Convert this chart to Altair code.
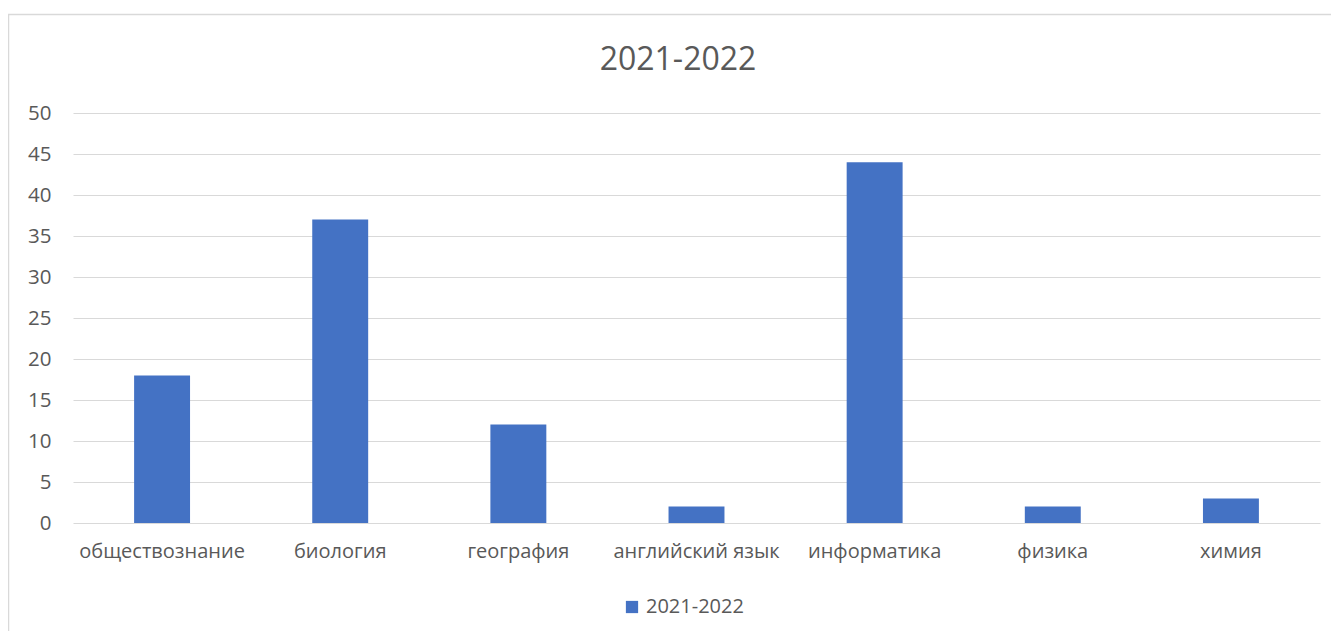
import altair as alt
import pandas as pd

categories = ["обществознание", "биология", "география", "английский язык",
              "информатика", "физика", "химия"]
values = [18, 37, 12, 2, 44, 2, 3]
series = ["2021-2022"] * len(categories)
y_ticks = [0, 5, 10, 15, 20, 25, 30, 35, 40, 45, 50]
chart_title = "2021-2022"

df = pd.DataFrame({"category": categories, "value": values, "series": series})
title_df = pd.DataFrame({"title": [chart_title]})

FONT = "Open Sans"
GRAY = "#595959"

bars = alt.Chart(df).mark_bar(color="#4472C4").encode(
    x=alt.X("category:N", sort=categories, title=None,
            scale=alt.Scale(paddingInner=0.686, paddingOuter=0.343),
            axis=alt.Axis(labelAngle=0, ticks=False, domain=False, grid=False,
                          labelFontSize=20, labelColor=GRAY, labelFont=FONT,
                          labelPadding=18)),
    y=alt.Y("value:Q", title=None,
            scale=alt.Scale(domain=[0, 50], nice=False),
            axis=alt.Axis(values=y_ticks, ticks=False, domain=False,
                          gridColor="#D9D9D9", gridWidth=1,
                          labelFontSize=20.5, labelColor=GRAY, labelFont=FONT,
                          labelPadding=22)),
    color=alt.Color("series:N", title=None,
                    scale=alt.Scale(range=["#4472C4"]),
                    legend=alt.Legend(orient="none", legendX=549, legendY=484,
                                      symbolType="square", symbolSize=150,
                                      symbolStrokeWidth=0,
                                      labelFontSize=20, labelColor=GRAY,
                                      labelFont=FONT, labelOffset=4)),
)

border = alt.Chart(title_df).mark_rect(fill=None, stroke="#D9D9D9", strokeWidth=1.5).encode(
    x=alt.value(-64.5), x2=alt.value(1400), y=alt.value(-98.5), y2=alt.value(700)
)

title = alt.Chart(title_df).mark_text(
    fontSize=32, color=GRAY, font=FONT, align="center", baseline="alphabetic"
).encode(text="title:N", x=alt.value(605), y=alt.value(-43))

chart = alt.layer(border, bars, title).properties(
    width=1247,
    height=410,
    padding={"left": 65, "top": 105, "right": 11, "bottom": 108},
    autosize=alt.AutoSizeParams(type="none"),
).configure_view(stroke=None)

chart.save("out.html", embed_options={"renderer": "svg", "actions": False})
